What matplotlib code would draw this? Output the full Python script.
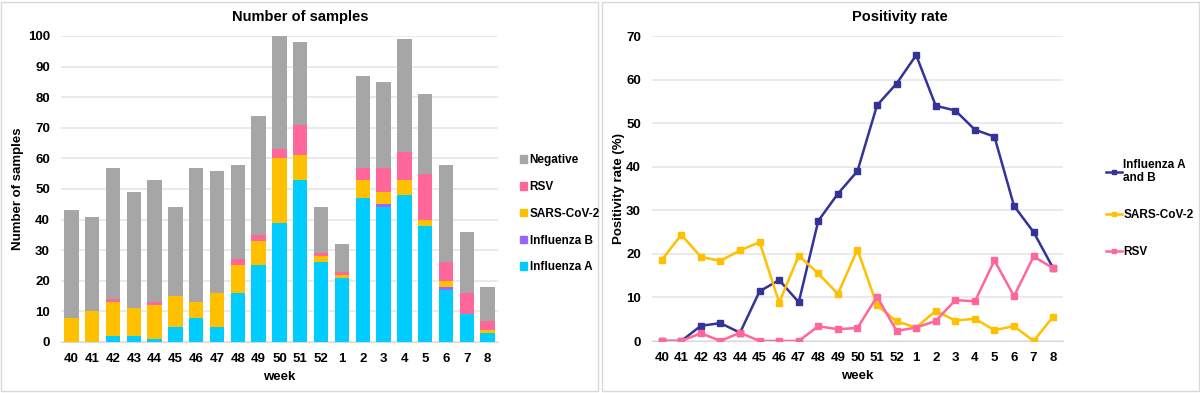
import matplotlib
matplotlib.use('Agg')
import matplotlib.pyplot as plt
from matplotlib.patches import Patch, Rectangle
from matplotlib.lines import Line2D
import numpy as np

plt.rcParams['font.family'] = ['Liberation Sans', 'DejaVu Sans']
plt.rcParams['font.weight'] = 'bold'

# Weeks of the season
weeks = ['40', '41', '42', '43', '44', '45', '46', '47', '48', '49', '50', '51', '52',
         '1', '2', '3', '4', '5', '6', '7', '8']

# Number of samples per week (stacked)
flu_a = [0, 0, 2, 2, 1, 5, 8, 5, 16, 25, 39, 53, 26, 21, 47, 44, 48, 38, 17, 9, 3]
flu_b = [0, 0, 0, 0, 0, 0, 0, 0, 0, 0, 0, 0, 0, 0, 0, 1, 0, 0, 1, 0, 0]
sars_n = [8, 10, 11, 9, 11, 10, 5, 11, 9, 8, 21, 8, 2, 1, 6, 4, 5, 2, 2, 0, 1]
rsv_n = [0, 0, 1, 0, 1, 0, 0, 0, 2, 2, 3, 10, 1, 1, 4, 8, 9, 15, 6, 7, 3]
negative = [35, 31, 43, 38, 40, 29, 44, 40, 31, 39, 37, 27, 15, 9, 30, 28, 37, 26, 32, 20, 11]

# Positivity rate (%)
flu_rate = [0, 0, 3.5, 4.1, 1.9, 11.4, 14.0, 8.9, 27.6, 33.8, 39.0, 54.1, 59.1,
            65.6, 54.0, 52.9, 48.5, 46.9, 31.0, 25.0, 16.7]
sars_rate = [18.6, 24.4, 19.3, 18.4, 20.8, 22.7, 8.8, 19.6, 15.5, 10.8, 21.0, 8.2, 4.5,
             3.1, 6.9, 4.7, 5.1, 2.5, 3.4, 0.0, 5.6]
rsv_rate = [0, 0, 1.8, 0, 1.9, 0, 0, 0, 3.4, 2.7, 3.0, 10.2, 2.3,
            3.1, 4.6, 9.4, 9.1, 18.5, 10.3, 19.4, 16.7]

c_a = '#00CCFF'
c_b = '#9966FF'
c_sars = '#FFC000'
c_rsv = '#FF6699'
c_neg = '#A6A6A6'
c_flu = '#333399'
grid_c = '#E6E6E6'

fig = plt.figure(figsize=(12, 3.93), dpi=100)

# panel frames
fig.patches.append(Rectangle((0.001, 0.004), 0.497, 0.992, transform=fig.transFigure,
                             fill=False, edgecolor='#D9D9D9', linewidth=1))
fig.patches.append(Rectangle((0.502, 0.004), 0.497, 0.992, transform=fig.transFigure,
                             fill=False, edgecolor='#D9D9D9', linewidth=1))

x = np.arange(len(weeks))

# ---- left: number of samples ----
ax1 = fig.add_axes([0.0508, 0.1298, 0.3642, 0.7786])
bottom = np.zeros(len(weeks))
for vals, col in [(flu_a, c_a), (flu_b, c_b), (sars_n, c_sars), (rsv_n, c_rsv), (negative, c_neg)]:
    ax1.bar(x, vals, 0.69, bottom=bottom, color=col, zorder=3)
    bottom += np.array(vals)
ax1.set_ylim(0, 100)
ax1.set_xlim(-0.5, len(weeks) - 0.5)
ax1.set_yticks(range(0, 101, 10))
ax1.set_xticks(x)
ax1.set_xticklabels(weeks)
ax1.yaxis.grid(True, color=grid_c, linewidth=1.2, zorder=0)
ax1.set_axisbelow(True)
for s in ['top', 'right', 'left']:
    ax1.spines[s].set_visible(False)
ax1.spines['bottom'].set_color('#D9D9D9')
ax1.tick_params(length=0, labelsize=9.5, pad=8)
ax1.set_ylabel('Number of samples', fontsize=9.5, fontweight='bold')
ax1.yaxis.set_label_coords(-0.085, 0.5)
ax1.set_xlabel('week', fontsize=9.5, fontweight='bold', labelpad=4)
fig.text(0.25, 0.958, 'Number of samples', ha='center', va='center', fontsize=10.5, fontweight='bold')

handles1 = [Patch(color=c_neg, label='Negative'), Patch(color=c_rsv, label='RSV'),
            Patch(color=c_sars, label='SARS-CoV-2'), Patch(color=c_b, label='Influenza B'),
            Patch(color=c_a, label='Influenza A')]
fig.legend(handles=handles1, loc='center left', bbox_to_anchor=(0.429, 0.456), frameon=False,
           fontsize=8.5, handlelength=0.6, handleheight=0.6, handletextpad=0.25,
           labelspacing=1.25, borderaxespad=0)

# ---- right: positivity rate ----
ax2 = fig.add_axes([0.5433, 0.1323, 0.3425, 0.776])
ax2.plot(x, flu_rate, color=c_flu, marker='s', markersize=4.5, linewidth=1.8, zorder=3)
ax2.plot(x, sars_rate, color=c_sars, marker='s', markersize=4.5, linewidth=1.8, zorder=4)
ax2.plot(x, rsv_rate, color=c_rsv, marker='s', markersize=4.5, linewidth=1.8, zorder=5)
ax2.set_ylim(0, 70)
ax2.set_xlim(-0.5, len(weeks) - 0.5)
ax2.set_yticks(range(0, 71, 10))
ax2.set_xticks(x)
ax2.set_xticklabels(weeks)
ax2.yaxis.grid(True, color=grid_c, linewidth=1.2, zorder=0)
ax2.set_axisbelow(True)
for s in ['top', 'right', 'left']:
    ax2.spines[s].set_visible(False)
ax2.spines['bottom'].set_color('#D9D9D9')
ax2.tick_params(length=0, labelsize=9.5, pad=8)
ax2.set_ylabel('Positivity rate (%)', fontsize=9.5, fontweight='bold')
ax2.yaxis.set_label_coords(-0.066, 0.5)
ax2.set_xlabel('week', fontsize=9.5, fontweight='bold', labelpad=4)
fig.text(0.75, 0.958, 'Positivity rate', ha='center', va='center', fontsize=10.5, fontweight='bold')

handles2 = [Line2D([], [], color=c_flu, marker='s', markersize=3.5, linewidth=1.8, label='Influenza A\nand B'),
            Line2D([], [], color=c_sars, marker='s', markersize=3.5, linewidth=1.8, label='SARS-CoV-2'),
            Line2D([], [], color=c_rsv, marker='s', markersize=3.5, linewidth=1.8, label='RSV')]
fig.legend(handles=handles2, loc='center left', bbox_to_anchor=(0.918, 0.47), frameon=False,
           fontsize=8.5, handlelength=1.3, handletextpad=0.15, labelspacing=2.1, borderaxespad=0)

fig.savefig('out.png', dpi=100)
